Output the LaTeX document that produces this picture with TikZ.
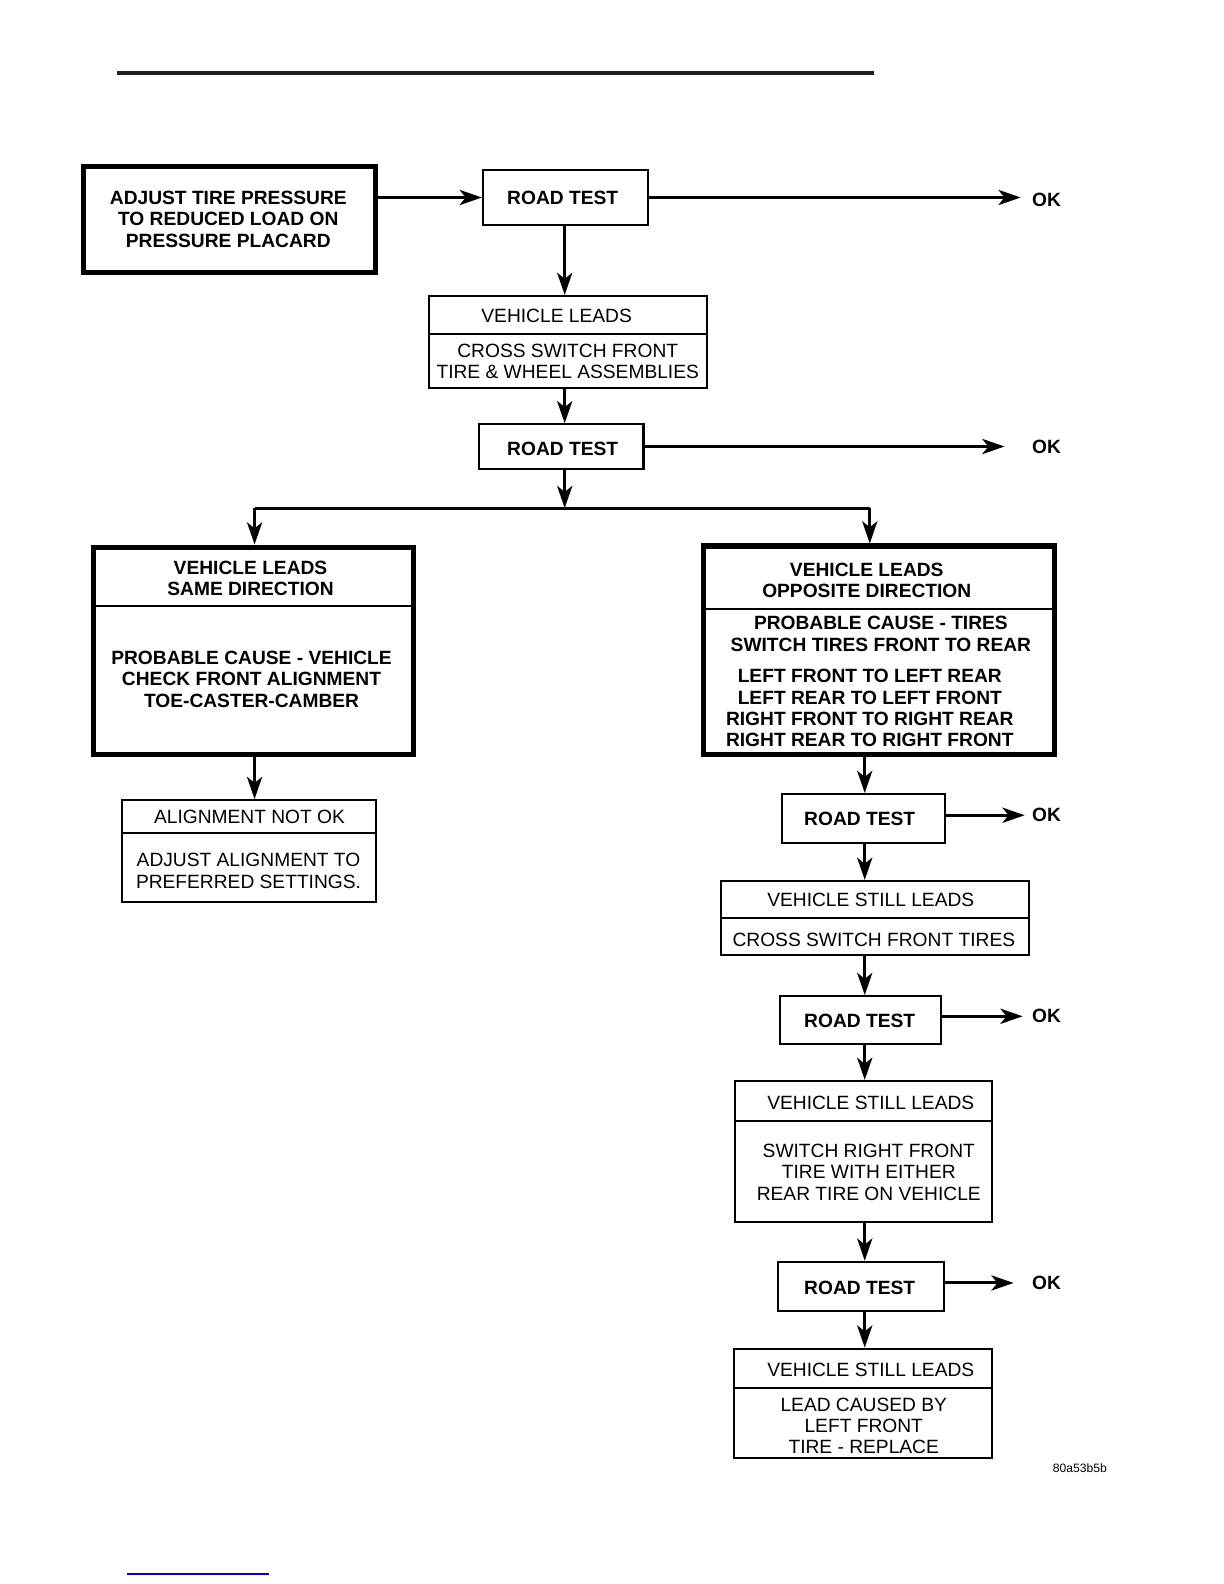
\documentclass[tikz,border=0pt]{standalone}
\usepackage{fontspec}
\setmainfont{Liberation Sans}
\usetikzlibrary{arrows.meta}
\tikzset{
  thinbox/.style={draw, line width=1pt, inner sep=0pt},
  thickbox/.style={draw, line width=2.5pt, inner sep=0pt},
  divider/.style={line width=1pt},
  arr/.style={line width=1.5pt, -{Stealth[length=11pt,width=7.5pt,inset=3pt]}},
  plainline/.style={line width=1.5pt},
  txt/.style={font=\fontsize{9.5}{10.5}\selectfont, align=center, inner sep=0pt},
  btxt/.style={font=\fontsize{9.5}{10.5}\selectfont\bfseries, align=center, inner sep=0pt},
  oktxt/.style={font=\fontsize{9.5}{10.5}\selectfont\bfseries, inner sep=2pt}
}
\begin{document}
\begin{tikzpicture}[x=0.5pt, y=-0.5pt]
\useasboundingbox (0,0) rectangle (1211.6,1568);
% header rule and footer link line
\draw[line width=2pt, black!88] (116,72) -- (865,72);
\draw[line width=0.6pt, blue!75!black] (126,1558) -- (266,1558);

\coordinate (c1) at (559,0);
\coordinate (c2) at (856,0);

% boxes
\node[thickbox, minimum width=144.5pt, minimum height=52.5pt] (adj) at (227.5,217.5) {};
\node[btxt] (adjt) at (226,217) {ADJUST TIRE PRESSURE\\TO REDUCED LOAD ON\\PRESSURE PLACARD};

\node[thinbox, minimum width=81.5pt, minimum height=27.5pt] (rt1) at (559.5,195.5) {};
\node[btxt] (rt1t) at (557,196) {ROAD TEST};
\node[oktxt] (ok1) at (1036,198) {OK};

\node[thinbox, minimum width=137.5pt, minimum height=45.5pt] (vl) at (562.5,338.5) {};
\draw[divider] (vl.west |- 0,331) -- (vl.east |- 0,331);
\node[txt] (vlt1) at (551,313) {VEHICLE LEADS};
\node[txt] (vlt2) at (562,358) {CROSS SWITCH FRONT\\TIRE \& WHEEL ASSEMBLIES};

\node[thinbox, minimum width=81.5pt, minimum height=22pt] (rt2) at (555.5,442) {};
\node[btxt] (rt2t) at (557,444) {ROAD TEST};
\node[oktxt] (ok2) at (1036,442) {OK};

\node[thickbox, minimum width=158.5pt, minimum height=102.5pt] (lbox) at (251,644) {};
\draw[line width=1pt] (lbox.west |- 0,600) -- (lbox.east |- 0,600);
\node[btxt] (lt1) at (248,572.5) {VEHICLE LEADS\\SAME DIRECTION};
\node[btxt] (lt2) at (249,672.5) {PROBABLE CAUSE - VEHICLE\\CHECK FRONT ALIGNMENT\\TOE-CASTER-CAMBER};

\node[thinbox, minimum width=125.5pt, minimum height=50.5pt] (al) at (246.5,842.5) {};
\draw[divider] (al.west |- 0,825) -- (al.east |- 0,825);
\node[txt] (alt1) at (247,809) {ALIGNMENT NOT OK};
\node[txt] (alt2) at (246,862) {ADJUST ALIGNMENT TO\\PREFERRED SETTINGS.};

\node[thickbox, minimum width=173.5pt, minimum height=103pt] (rbox) at (870,643.5) {};
\draw[line width=1pt] (rbox.west |- 0,603) -- (rbox.east |- 0,603);
\node[btxt] (rt1a) at (858,574.5) {VEHICLE LEADS\\OPPOSITE DIRECTION};
\node[btxt] (rt1b) at (872,627.5) {PROBABLE CAUSE - TIRES\\SWITCH TIRES FRONT TO REAR};
\node[btxt] (rt1c) at (861,701) {LEFT FRONT TO LEFT REAR\\LEFT REAR TO LEFT FRONT\\RIGHT FRONT TO RIGHT REAR\\RIGHT REAR TO RIGHT FRONT};

\node[thinbox, minimum width=80.5pt, minimum height=24pt] (rt3) at (854.5,810) {};
\node[btxt] (rt3t) at (851,811) {ROAD TEST};
\node[oktxt] (ok3) at (1036,807) {OK};

\node[thinbox, minimum width=152.5pt, minimum height=36.5pt] (vsl1) at (866.5,908.5) {};
\draw[divider] (vsl1.west |- 0,909) -- (vsl1.east |- 0,909);
\node[txt] (vsl1a) at (862,891) {VEHICLE STILL LEADS};
\node[txt] (vsl1b) at (865,930) {CROSS SWITCH FRONT TIRES};

\node[thinbox, minimum width=79.5pt, minimum height=23.5pt] (rt4) at (851.5,1009.5) {};
\node[btxt] (rt4t) at (851,1011) {ROAD TEST};
\node[oktxt] (ok4) at (1036,1006) {OK};

\node[thinbox, minimum width=127pt, minimum height=70pt] (vsl2) at (855,1140) {};
\draw[divider] (vsl2.west |- 0,1110) -- (vsl2.east |- 0,1110);
\node[txt] (vsl2a) at (862,1092) {VEHICLE STILL LEADS};
\node[txt] (vsl2b) at (860,1160.5) {SWITCH RIGHT FRONT\\TIRE WITH EITHER\\REAR TIRE ON VEHICLE};

\node[thinbox, minimum width=82pt, minimum height=24.5pt] (rt5) at (852,1273.5) {};
\node[btxt] (rt5t) at (851,1275) {ROAD TEST};
\node[oktxt] (ok5) at (1036,1270) {OK};

\node[thinbox, minimum width=127.5pt, minimum height=54pt] (vsl3) at (854.5,1389) {};
\draw[divider] (vsl3.west |- 0,1374) -- (vsl3.east |- 0,1374);
\node[txt] (vsl3a) at (862,1356) {VEHICLE STILL LEADS};
\node[txt] (vsl3b) at (855,1411.5) {LEAD CAUSED BY\\LEFT FRONT\\TIRE - REPLACE};

\node[font=\fontsize{6}{7}\selectfont, inner sep=0pt] (code) at (1069,1453) {80a53b5b};

% connectors
\draw[arr] (adj.east |- rt1.east) -- (rt1.west);
\draw[arr, shorten >=3.5pt] (rt1.east) -- (rt1.east -| ok1.west);
\draw[arr] (rt1.south -| c1) -- (vl.north -| c1);
\draw[arr] (vl.south -| c1) -- (rt2.north -| c1);
\draw[arr, shorten >=11.5pt] (rt2.east) -- (rt2.east -| ok2.west);
\coordinate (j) at (559,503);
\coordinate (jl) at (252,503);
\coordinate (jr) at (861,503);
\draw[arr] (rt2.south -| c1) -- (j);
\draw[plainline] (jl) -- (jr);
\draw[arr] (jl) -- (jl |- lbox.north);
\draw[arr] (jr) -- (jr |- rbox.north);
\draw[arr] (lbox.south -| jl) -- (al.north -| jl);
\draw[arr] (rbox.south -| c2) -- (rt3.north -| c2);
\draw[arr, shorten >=1.5pt] (rt3.east |- ok3.west) -- (ok3.west);
\draw[arr] (rt3.south -| c2) -- (vsl1.north -| c2);
\draw[arr] (vsl1.south -| c2) -- (rt4.north -| c2);
\draw[arr, shorten >=2.5pt] (rt4.east |- ok4.west) -- (ok4.west);
\draw[arr] (rt4.south -| c2) -- (vsl2.north -| c2);
\draw[arr] (vsl2.south -| c2) -- (rt5.north -| c2);
\draw[arr, shorten >=7pt] (rt5.east |- ok5.west) -- (ok5.west);
\draw[arr] (rt5.south -| c2) -- (vsl3.north -| c2);
\end{tikzpicture}
\end{document}
